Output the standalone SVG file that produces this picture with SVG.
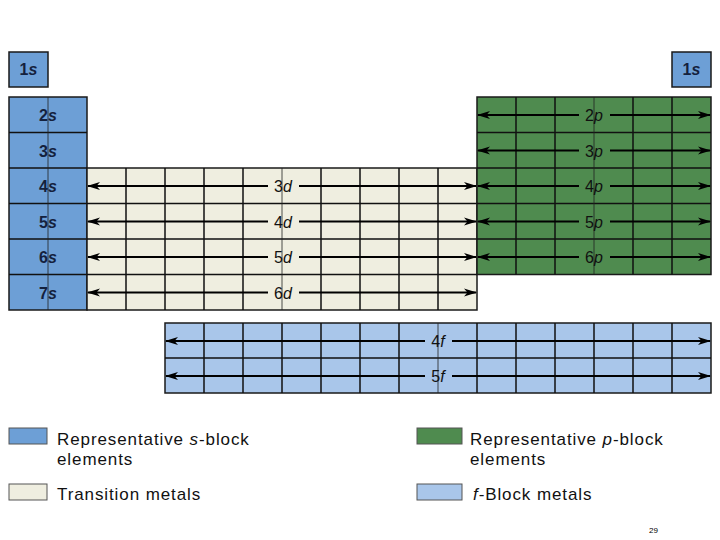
<svg xmlns="http://www.w3.org/2000/svg" width="720" height="540" viewBox="0 0 720 540">
<defs>
<style>
.s{fill:#6d9fd6}
.p{fill:#4f8b4f}
.d{fill:#efeee0}
.f{fill:#a9c6ea}
.box{stroke:#1a1a1a;stroke-width:1.5}
.g{stroke:#111;stroke-width:1.5;fill:none}
.gt{stroke:#222;stroke-width:0.8;fill:none}
.arr{stroke:#000;stroke-width:1.8;fill:none}
.lbl{font-family:"Liberation Sans",Arial,sans-serif;font-size:16px;fill:#111;text-anchor:middle}
.sl{font-family:"Liberation Sans",Arial,sans-serif;font-size:16px;font-weight:bold;fill:#14213d;text-anchor:middle}
.leg{font-family:"Liberation Sans",Arial,sans-serif;font-size:17px;letter-spacing:0.9px;fill:#111}
</style>
<marker id="ah" markerWidth="13" markerHeight="9" refX="12" refY="4.5" orient="auto-start-reverse" markerUnits="userSpaceOnUse">
<path d="M0,0.5 L13,4.5 L0,8.5 L3.5,4.5 Z" fill="#000"/>
</marker>
</defs>
<rect width="720" height="540" fill="#fff"/>

<g id="s1-left">
<rect x="9" y="52" width="39" height="35" class="s box"/>
<text x="28.5" y="75" class="sl">1<tspan font-style="italic">s</tspan></text>
</g>
<g id="s1-right">
<rect x="672" y="52" width="39" height="35" class="s box"/>
<text x="691.5" y="75" class="sl">1<tspan font-style="italic">s</tspan></text>
</g>

<g id="s-block">
<rect x="9" y="97" width="78" height="213" class="s box"/>
<path class="g" d="M9,132.5H87M9,168H87M9,203.5H87M9,239H87M9,274.5H87"/>
<path class="gt" d="M48,97V310"/>
<text x="48" y="121" class="sl">2<tspan font-style="italic">s</tspan></text>
<text x="48" y="156.5" class="sl">3<tspan font-style="italic">s</tspan></text>
<text x="48" y="192" class="sl">4<tspan font-style="italic">s</tspan></text>
<text x="48" y="227.5" class="sl">5<tspan font-style="italic">s</tspan></text>
<text x="48" y="263" class="sl">6<tspan font-style="italic">s</tspan></text>
<text x="48" y="298.5" class="sl">7<tspan font-style="italic">s</tspan></text>
</g>

<g id="d-block">
<rect x="87" y="168" width="390" height="142" class="d box"/>
<path class="g" d="M87,203.5H477M87,239H477M87,274.5H477M126,168V310M165,168V310M204,168V310M243,168V310M321,168V310M360,168V310M399,168V310M438,168V310"/>
<path class="gt" d="M282,168V310"/>
<text x="283" y="192" class="lbl">3<tspan font-style="italic">d</tspan></text>
<text x="283" y="227.5" class="lbl">4<tspan font-style="italic">d</tspan></text>
<text x="283" y="263" class="lbl">5<tspan font-style="italic">d</tspan></text>
<text x="283" y="298.5" class="lbl">6<tspan font-style="italic">d</tspan></text>
</g>

<g id="p-block">
<rect x="477" y="97" width="234" height="177.5" class="p box"/>
<path class="g" d="M477,132.5H711M477,168H711M477,203.5H711M477,239H711M516,97V274.5M555,97V274.5M633,97V274.5M672,97V274.5"/>
<path class="gt" d="M594,97V274.5"/>
<text x="594" y="121" class="lbl">2<tspan font-style="italic">p</tspan></text>
<text x="594" y="156.5" class="lbl">3<tspan font-style="italic">p</tspan></text>
<text x="594" y="192" class="lbl">4<tspan font-style="italic">p</tspan></text>
<text x="594" y="227.5" class="lbl">5<tspan font-style="italic">p</tspan></text>
<text x="594" y="263" class="lbl">6<tspan font-style="italic">p</tspan></text>
</g>

<g id="f-block">
<rect x="165" y="323" width="546" height="70" class="f box"/>
<path class="g" d="M165,358H711M204,323V393M243,323V393M282,323V393M321,323V393M360,323V393M399,323V393M477,323V393M516,323V393M555,323V393M594,323V393M633,323V393M672,323V393"/>
<path class="gt" d="M438,323V393"/>
<text x="438" y="347" class="lbl">4<tspan font-style="italic">f</tspan></text>
<text x="438" y="382" class="lbl">5<tspan font-style="italic">f</tspan></text>
</g>

<g id="connectors">
<path class="arr" marker-start="url(#ah)" d="M88,186H268"/>
<path class="arr" marker-end="url(#ah)" d="M299,186H476"/>
<path class="arr" marker-start="url(#ah)" d="M88,221.5H268"/>
<path class="arr" marker-end="url(#ah)" d="M299,221.5H476"/>
<path class="arr" marker-start="url(#ah)" d="M88,257H268"/>
<path class="arr" marker-end="url(#ah)" d="M299,257H476"/>
<path class="arr" marker-start="url(#ah)" d="M88,292.5H268"/>
<path class="arr" marker-end="url(#ah)" d="M299,292.5H476"/>

<path class="arr" marker-start="url(#ah)" d="M478,115H579"/>
<path class="arr" marker-end="url(#ah)" d="M610,115H710"/>
<path class="arr" marker-start="url(#ah)" d="M478,150.5H579"/>
<path class="arr" marker-end="url(#ah)" d="M610,150.5H710"/>
<path class="arr" marker-start="url(#ah)" d="M478,186H579"/>
<path class="arr" marker-end="url(#ah)" d="M610,186H710"/>
<path class="arr" marker-start="url(#ah)" d="M478,221.5H579"/>
<path class="arr" marker-end="url(#ah)" d="M610,221.5H710"/>
<path class="arr" marker-start="url(#ah)" d="M478,257H579"/>
<path class="arr" marker-end="url(#ah)" d="M610,257H710"/>

<path class="arr" marker-start="url(#ah)" d="M166,341H425"/>
<path class="arr" marker-end="url(#ah)" d="M452,341H710"/>
<path class="arr" marker-start="url(#ah)" d="M166,376H425"/>
<path class="arr" marker-end="url(#ah)" d="M452,376H710"/>
</g>

<g id="legend">
<rect x="9" y="428" width="38" height="16" class="s" stroke="#555" stroke-width="1"/>
<text x="57" y="445" class="leg">Representative <tspan font-style="italic">s</tspan>-block</text>
<text x="57" y="465" class="leg">elements</text>
<rect x="9" y="484" width="38" height="16" class="d" stroke="#555" stroke-width="1"/>
<text x="57" y="500" class="leg">Transition metals</text>
<rect x="417" y="428" width="45" height="16" class="p" stroke="#555" stroke-width="1"/>
<text x="470" y="445" class="leg">Representative <tspan font-style="italic">p</tspan>-block</text>
<text x="470" y="465" class="leg">elements</text>
<rect x="417" y="484" width="45" height="16" class="f" stroke="#555" stroke-width="1"/>
<text x="473" y="500" class="leg"><tspan font-style="italic">f</tspan>-Block metals</text>
</g>
<text x="649" y="533" font-family="Liberation Sans,Arial,sans-serif" font-size="8" fill="#000">29</text>
</svg>
